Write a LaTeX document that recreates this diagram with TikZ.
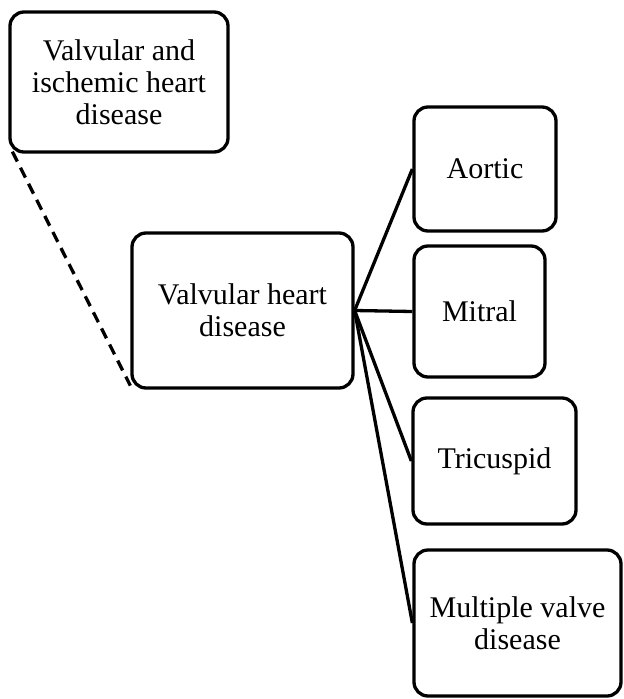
\documentclass[tikz,border=0pt]{standalone}
\usepackage{fontspec}
\setmainfont{Liberation Serif}
\begin{document}
\begin{tikzpicture}[x=1pt,y=-1pt,
  box/.style={draw=black, line width=3.3pt, rounded corners=14pt, fill=white,
    align=center, inner sep=0pt, font=\fontsize{30}{32}\selectfont},
  link/.style={line width=3.3pt, black},
  dashlink/.style={line width=3.3pt, black, dash pattern=on 11pt off 7pt}]
\useasboundingbox (0,0) rectangle (624,699);
\node[box, minimum width=218pt, minimum height=140pt] (A) at (119,82) {Valvular and\\ischemic heart\\disease};
\node[box, minimum width=221pt, minimum height=155pt] (V) at (242.5,310.5) {Valvular heart\\disease};
\node[box, minimum width=142pt, minimum height=124pt] (Ao) at (485,169) {Aortic};
\node[box, minimum width=131pt, minimum height=131pt] (Mi) at (479.5,311.5) {Mitral};
\node[box, minimum width=163pt, minimum height=126pt] (Tr) at (494.5,461) {Tricuspid};
\node[box, minimum width=207pt, minimum height=146pt] (Mu) at (517.5,623) {Multiple valve\\disease};
\draw[dashlink] ([xshift=4pt,yshift=2pt]A.south west) -- ([yshift=4pt]V.south west);
\draw[link] (V.east) -- (Ao.west);
\draw[link] (V.east) -- (Mi.west);
\draw[link] (V.east) -- (Tr.west);
\draw[link] (V.east) -- (Mu.west);
\end{tikzpicture}
\end{document}
